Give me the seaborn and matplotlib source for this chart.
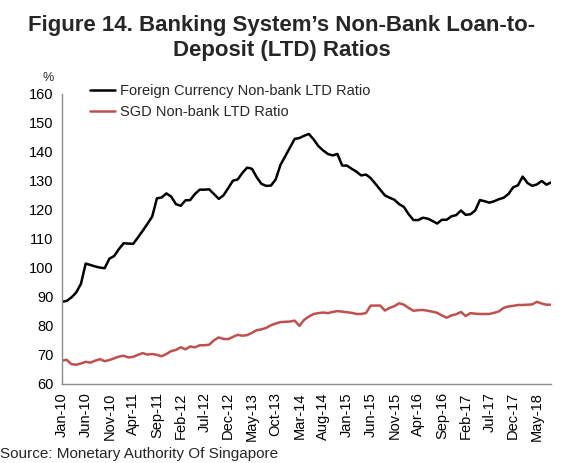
import matplotlib
matplotlib.use("Agg")
import matplotlib.pyplot as plt
import seaborn as sns
import pandas as pd
import numpy as np

# Monthly observations, Jan-2010 to Aug-2018
months = pd.date_range("2010-01-01", periods=104, freq="MS").strftime("%b-%y").tolist()

fx_ltd = [
    88.3, 88.6, 89.8, 91.5, 94.5, 101.5, 101.0, 100.5, 100.1, 99.9, 103.2, 104.1,
    106.5, 108.5, 108.4, 108.3, 110.5, 112.8, 115.2, 117.7, 124.0, 124.3, 125.7, 124.6,
    122.0, 121.4, 123.3, 123.4, 125.5, 127.0, 127.0, 127.1, 125.5, 123.8, 125.0, 127.5,
    130.1, 130.5, 132.8, 134.6, 134.2, 131.3, 129.0, 128.3, 128.4, 130.5, 135.5, 138.5,
    141.5, 144.5, 144.8, 145.6, 146.2, 144.3, 142.0, 140.5, 139.3, 138.8, 139.3, 135.3,
    135.3, 134.2, 133.2, 131.9, 132.2, 131.0, 129.0, 127.0, 125.0, 124.2, 123.5, 122.0,
    121.0, 118.5, 116.5, 116.5, 117.3, 117.0, 116.2, 115.3, 116.6, 116.6, 117.8, 118.2,
    119.8, 118.3, 118.5, 119.8, 123.4, 123.0, 122.5, 123.0, 123.7, 124.2, 125.5, 127.8,
    128.5, 131.5, 129.3, 128.3, 128.8, 130.0, 128.7, 129.5,
]

sgd_ltd = [
    68.0, 68.3, 66.8, 66.6, 67.0, 67.6, 67.3, 68.0, 68.5, 67.8, 68.2, 68.8,
    69.4, 69.7, 69.1, 69.3, 70.0, 70.6, 70.1, 70.3, 70.0, 69.5, 70.3, 71.3,
    71.7, 72.6, 71.9, 72.9, 72.6, 73.3, 73.3, 73.5, 75.0, 76.0, 75.5, 75.4,
    76.2, 76.9, 76.6, 76.8, 77.6, 78.5, 78.8, 79.3, 80.2, 80.8, 81.3, 81.4,
    81.5, 81.8, 80.0, 82.1, 83.2, 84.1, 84.4, 84.6, 84.4, 84.8, 85.1, 84.9,
    84.7, 84.5, 84.1, 84.1, 84.4, 87.0, 87.0, 87.0, 85.3, 86.2, 86.8, 87.8,
    87.3, 86.2, 85.2, 85.4, 85.5, 85.2, 84.9, 84.5, 83.6, 82.8, 83.6, 84.0,
    84.8, 83.4, 84.4, 84.2, 84.1, 84.1, 84.1, 84.5, 85.0, 86.2, 86.7, 86.9,
    87.2, 87.2, 87.3, 87.4, 88.3, 87.7, 87.3, 87.3,
]

series_names = ["Foreign Currency Non-bank LTD Ratio", "SGD Non-bank LTD Ratio"]
series_colors = ["#000000", "#C0504D"]

y_ticks = [60, 70, 80, 90, 100, 110, 120, 130, 140, 150, 160]

sns.set_theme(style="white")
plt.rcParams["font.family"] = ["Liberation Sans", "DejaVu Sans"]

idx = np.arange(len(months))
df = pd.DataFrame({
    "t": np.concatenate([idx, idx]),
    "value": fx_ltd + sgd_ltd,
    "series": [series_names[0]] * len(fx_ltd) + [series_names[1]] * len(sgd_ltd),
})

fig = plt.figure(figsize=(5.63, 4.63), dpi=100)
ax = fig.add_axes([0.110, 0.171, 0.869, 0.626])

sns.lineplot(data=df, x="t", y="value", hue="series", hue_order=series_names,
             palette=series_colors, linewidth=1.8, ax=ax)

ax.set_xlim(0, len(months) - 1)
ax.set_ylim(60, 160)
ax.set_yticks(y_ticks)
ax.set_yticklabels([str(v) for v in y_ticks], fontsize=10.5, color="#000000")
ax.set_xticks(idx[::5])
ax.set_xticklabels(months[::5], rotation=90, fontsize=10.5, color="#000000")
ax.tick_params(axis="both", length=0, pad=6)
ax.set_xlabel("")
ax.set_ylabel("")

for side in ["top", "right"]:
    ax.spines[side].set_visible(False)
for side in ["left", "bottom"]:
    ax.spines[side].set_color("#8c8c8c")
    ax.spines[side].set_linewidth(1.0)

leg = ax.legend(loc="upper left", bbox_to_anchor=(0.045, 1.055), frameon=False,
                fontsize=10.5, handlelength=1.7, handletextpad=0.4,
                labelspacing=0.5, borderaxespad=0)
for line in leg.get_lines():
    line.set_linewidth(1.8)

fig.text(0.075, 0.832, "%", fontsize=9, ha="left", va="center")

fig.text(0.5, 0.918, "Figure 14. Banking System\u2019s Non-Bank Loan-to-\nDeposit (LTD) Ratios",
         ha="center", va="center", fontsize=16, fontweight="bold", linespacing=1.2)

fig.text(0.0, 0.004, "Source: Monetary Authority Of Singapore", ha="left", va="bottom",
         fontsize=11)

fig.savefig("out.png", dpi=100)
